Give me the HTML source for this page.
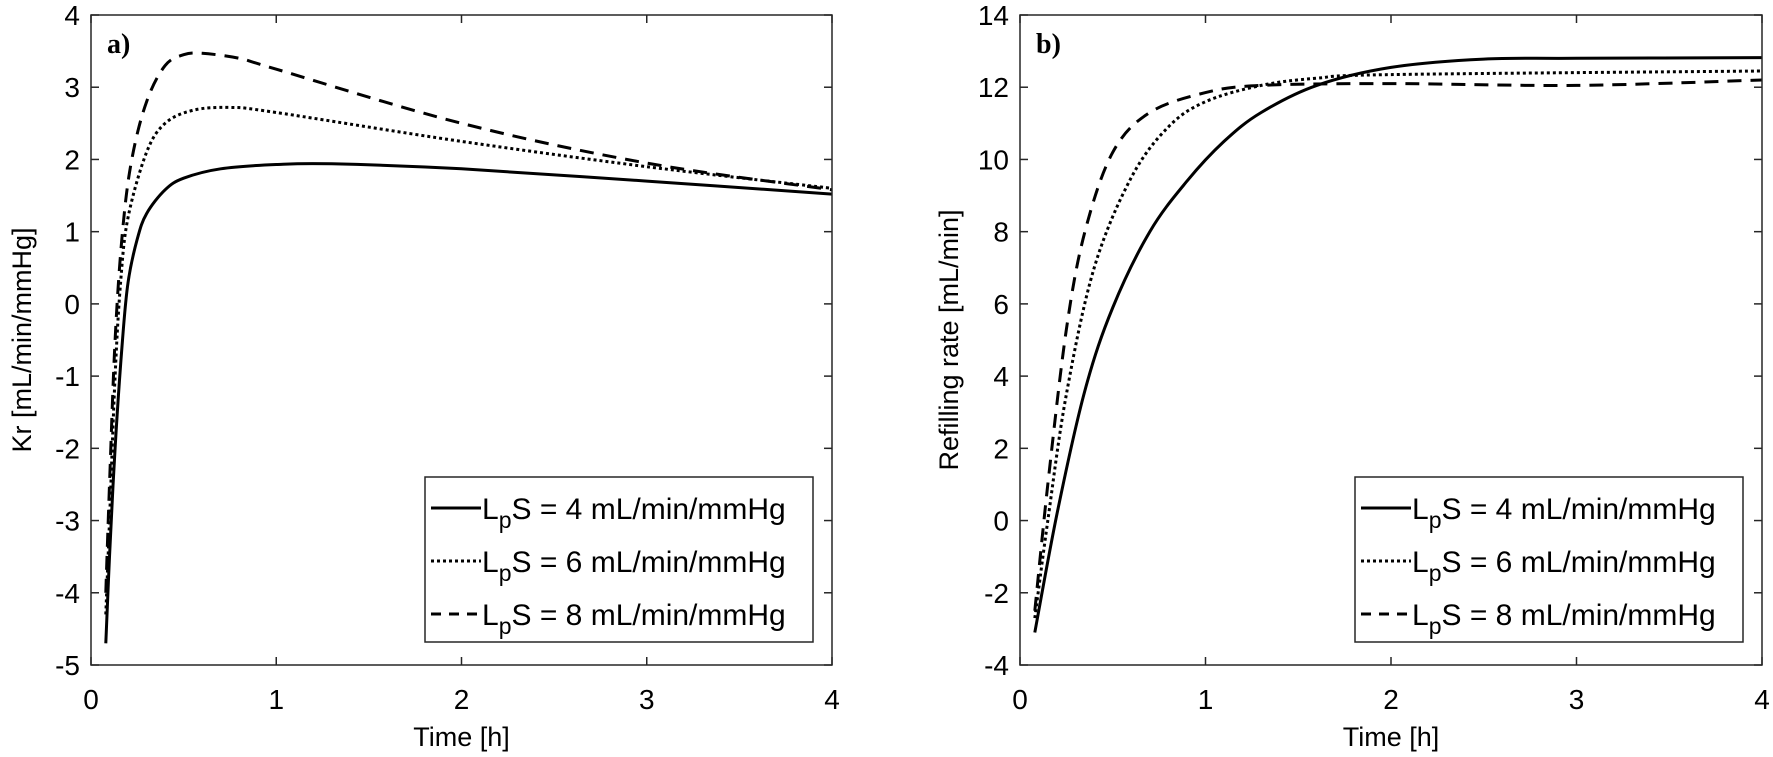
<!DOCTYPE html>
<html><head><meta charset="utf-8"><style>
body{margin:0;background:#fff}
svg{display:block}
text{font-family:"Liberation Sans",Arial,sans-serif;fill:#000}
</style></head><body>
<svg id="s" width="1773" height="757" xmlns="http://www.w3.org/2000/svg"></svg>
<script>
const S=document.getElementById('s');let h='';
function cr(pts){let d='M'+pts[0][0].toFixed(1)+','+pts[0][1].toFixed(1);
for(let i=0;i<pts.length-1;i++){const p0=pts[i-1]||pts[i],p1=pts[i],p2=pts[i+1],p3=pts[i+2]||p2;
const c1=[p1[0]+(p2[0]-p0[0])/6,p1[1]+(p2[1]-p0[1])/6],c2=[p2[0]-(p3[0]-p1[0])/6,p2[1]-(p3[1]-p1[1])/6];
d+=`C${c1[0].toFixed(1)},${c1[1].toFixed(1)} ${c2[0].toFixed(1)},${c2[1].toFixed(1)} ${p2[0].toFixed(1)},${p2[1].toFixed(1)}`;}return d;}
function panel(L,R,T,B,ymin,ymax,ylab,tag,series){
 const X=x=>L+(R-L)*x/4,Y=y=>B-(B-T)*(y-ymin)/(ymax-ymin);
 for(const s of series){const pts=s.p.map(q=>[X(q[0]),Y(q[1])]);
  h+=`<path d="${cr(pts)}" fill="none" stroke="#000" stroke-width="3" ${s.da?'stroke-dasharray="'+s.da+'"':''}/>`;}
 h+=`<rect x="${L}" y="${T}" width="${R-L}" height="${B-T}" fill="none" stroke="#262626" stroke-width="1.5"/>`;
 for(let i=0;i<=4;i++){const x=X(i);h+=`<line x1="${x}" y1="${B}" x2="${x}" y2="${B-8}" stroke="#262626" stroke-width="1.5"/><line x1="${x}" y1="${T}" x2="${x}" y2="${T+8}" stroke="#262626" stroke-width="1.5"/><text x="${x}" y="709" font-size="28" text-anchor="middle">${i}</text>`;}
 const step=(ymax-ymin)>10?2:1;
 for(let v=ymin;v<=ymax;v+=step){const y=Y(v);h+=`<line x1="${L}" y1="${y}" x2="${L+8}" y2="${y}" stroke="#262626" stroke-width="1.5"/><line x1="${R}" y1="${y}" x2="${R-8}" y2="${y}" stroke="#262626" stroke-width="1.5"/><text x="${L-11}" y="${y+10}" font-size="28" text-anchor="end">${v}</text>`;}
 h+=`<text x="${(L+R)/2}" y="746" font-size="27" text-anchor="middle">Time [h]</text>`;
 h+=`<text transform="translate(${tag=='a)'?31:958},340) rotate(-90)" font-size="27" text-anchor="middle">${ylab}</text>`;
 h+=`<text x="${L+16}" y="53" font-size="28" font-weight="bold" style="font-family:'Liberation Serif',serif">${tag}</text>`;
 const lgL=R-19-388,lgT=477;
 h+=`<rect x="${lgL}" y="${lgT}" width="388" height="165" fill="#fff" stroke="#262626" stroke-width="1.5"/>`;
 const das=['','3,3','10,8'];const vals=[4,6,8];
 for(let i=0;i<3;i++){const yy=lgT+31+i*53;
  h+=`<line x1="${lgL+6}" y1="${yy}" x2="${lgL+56}" y2="${yy}" stroke="#000" stroke-width="3" ${das[i]?'stroke-dasharray="'+das[i]+'"':''}/>`;
  h+=`<text x="${lgL+57}" y="${yy+11}" font-size="30">L<tspan font-size="23" dy="9">p</tspan><tspan dy="-9">S = ${vals[i]} mL/min/mmHg</tspan></text>`;}
}
panel(91,832,15,665,-5,4,'Kr [mL/min/mmHg]','a)',[
{p:[[0.08,-4.7],[0.1,-3.5],[0.13,-2],[0.17,-0.5],[0.2,0.3],[0.25,0.9],[0.3,1.25],[0.4,1.58],[0.5,1.74],[0.7,1.87],[1,1.93],[1.3,1.94],[2,1.87],[3,1.7],[4,1.52]]},
{p:[[0.08,-4.3],[0.1,-3],[0.13,-1],[0.16,0.3],[0.2,1.2],[0.3,2.1],[0.4,2.5],[0.55,2.68],[0.75,2.72],[1,2.65],[2,2.25],[3,1.9],[4,1.6]],da:'3,3'},
{p:[[0.08,-4],[0.1,-2.5],[0.13,-0.5],[0.17,1],[0.22,2],[0.3,2.8],[0.4,3.3],[0.5,3.45],[0.6,3.47],[0.8,3.4],[1,3.25],[2,2.5],[3,1.95],[4,1.58]],da:'14,9'}]);
panel(1020,1762,15,665,-4,14,'Refilling rate [mL/min]','b)',[
{p:[[0.08,-3.1],[0.2,0.2],[0.35,3.6],[0.5,5.9],[0.7,8.0],[0.9,9.4],[1.1,10.5],[1.3,11.3],[1.6,12.05],[2,12.55],[2.5,12.78],[3,12.8],[4,12.82]]},
{p:[[0.08,-2.7],[0.15,0],[0.25,3.5],[0.4,7],[0.6,9.5],[0.8,10.9],[1,11.6],[1.3,12.05],[1.6,12.25],[2,12.35],[4,12.45]],da:'3,3'},
{p:[[0.08,-2.5],[0.15,1],[0.25,5.3],[0.35,8],[0.5,10.2],[0.7,11.3],[1,11.85],[1.3,12.05],[2,12.1],[3,12.05],[4,12.2]],da:'14,9'}]);
S.innerHTML=h;
</script>
</body></html>
